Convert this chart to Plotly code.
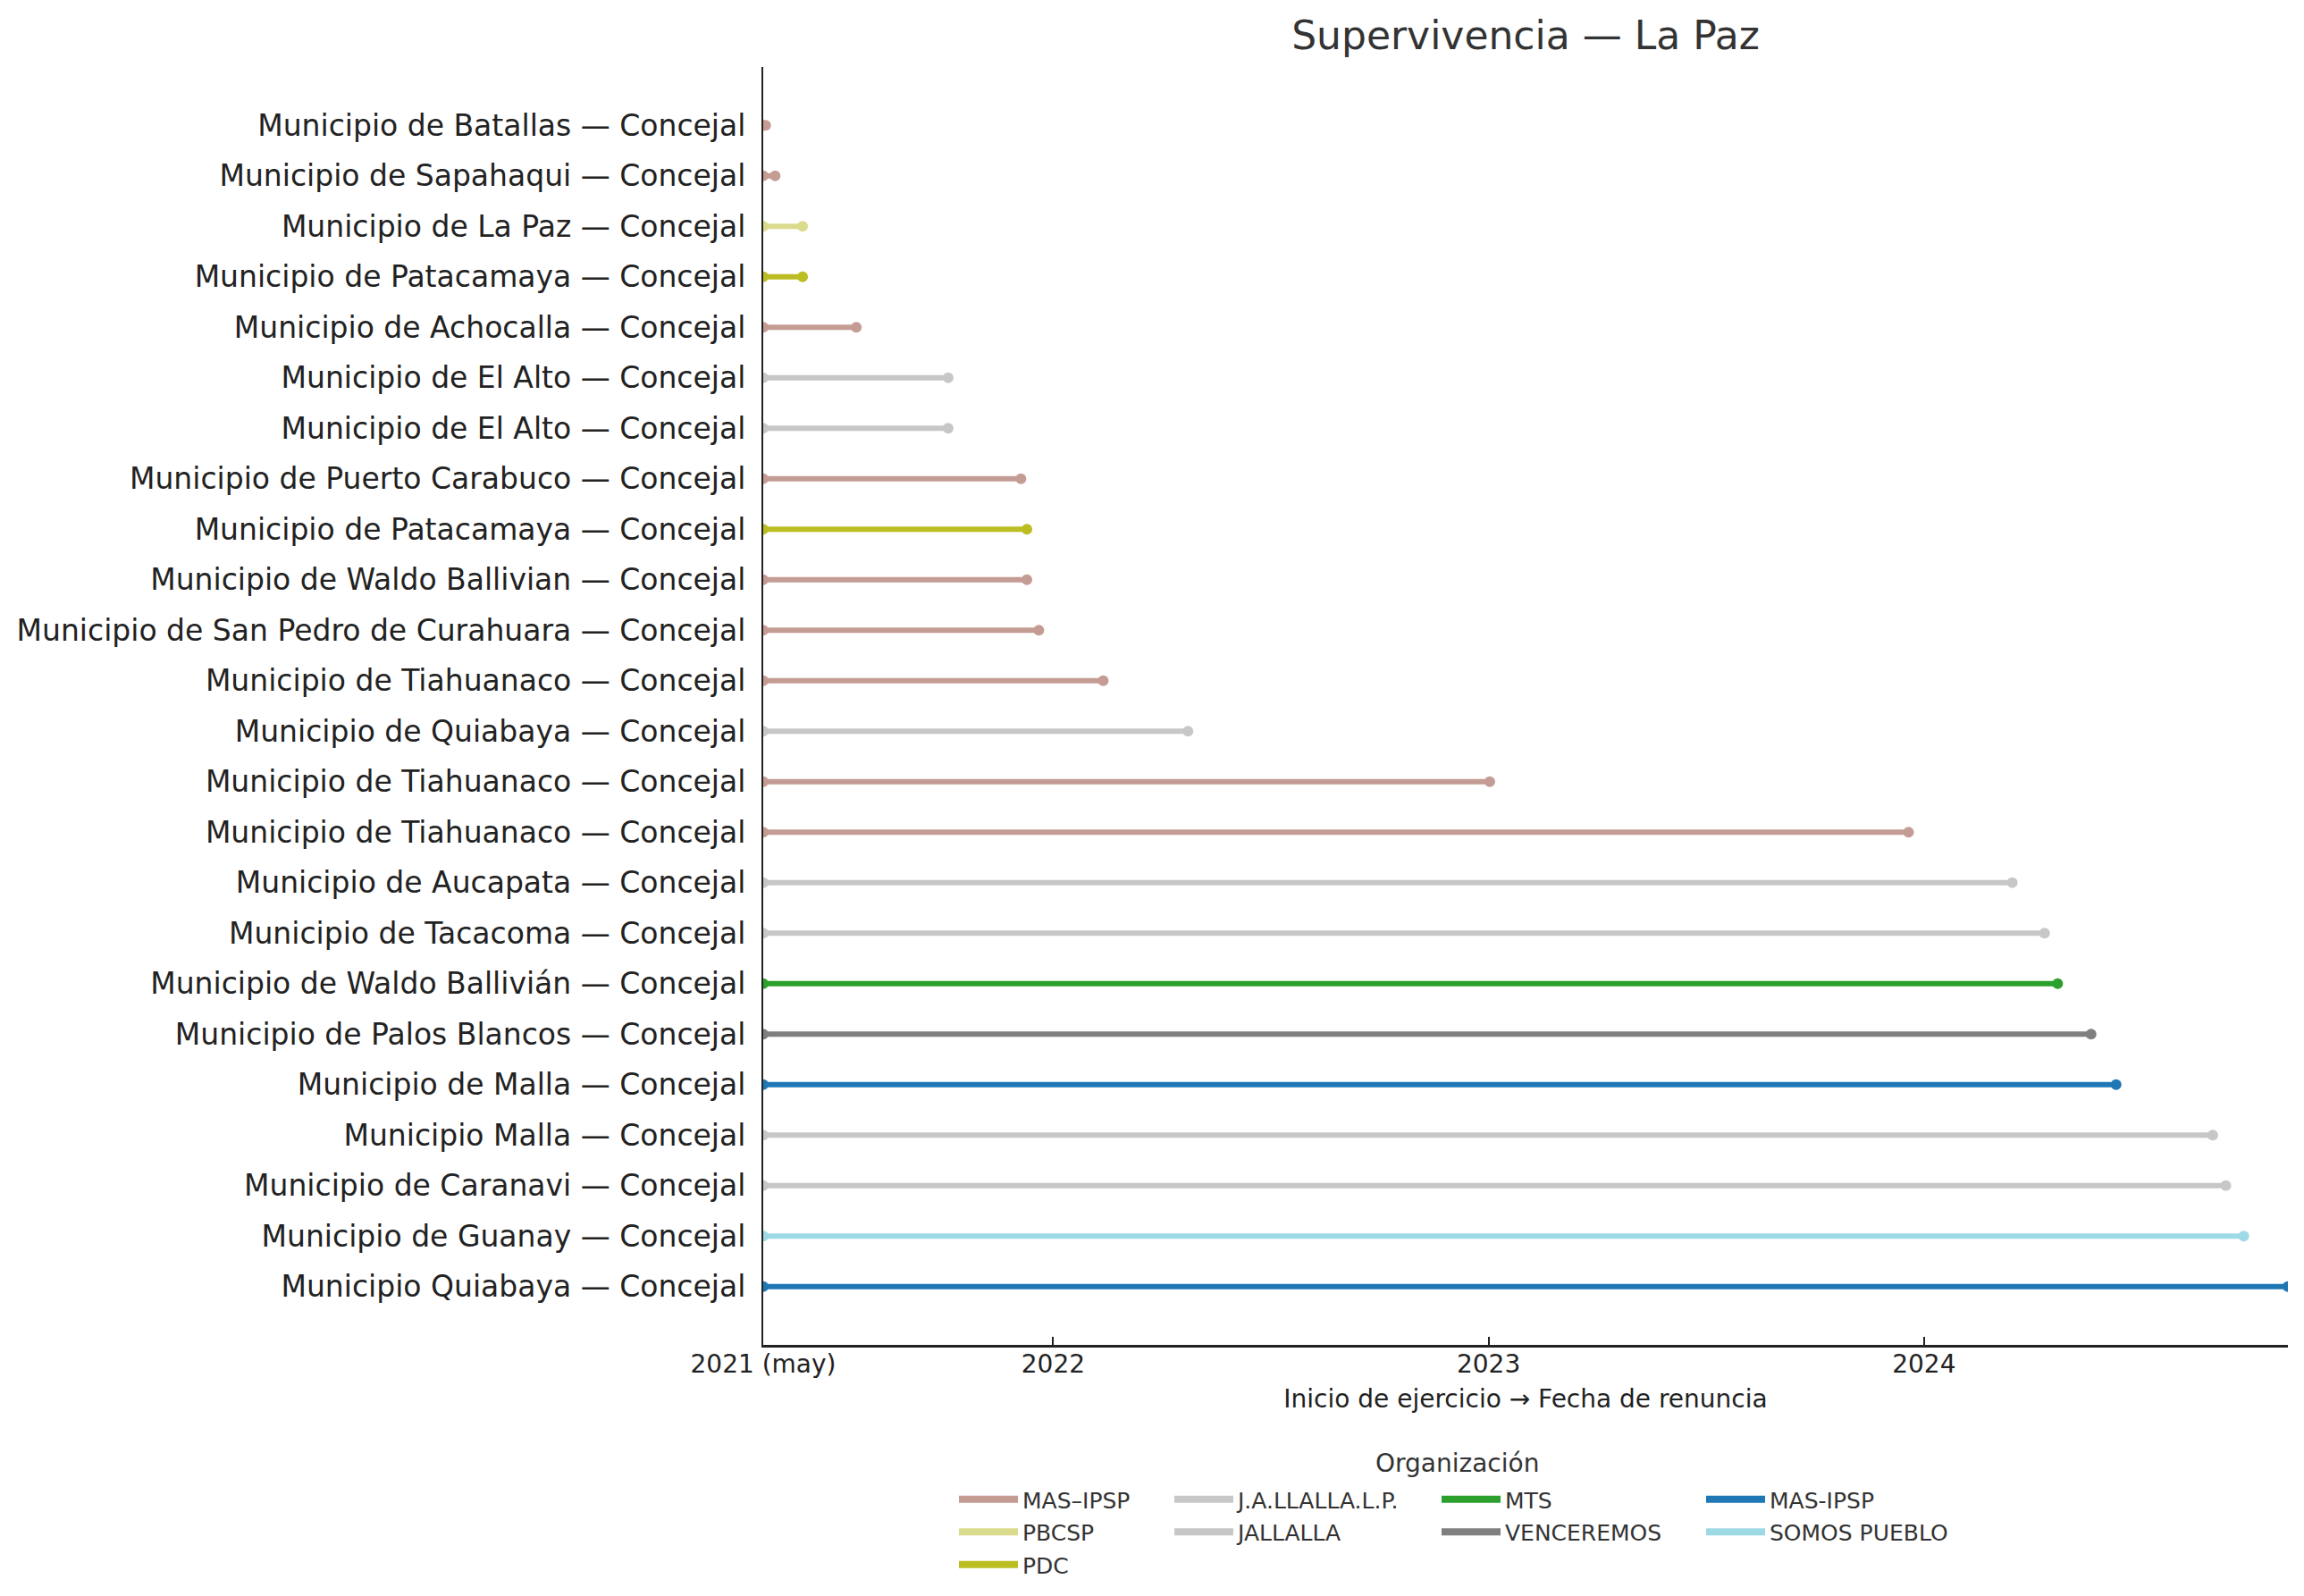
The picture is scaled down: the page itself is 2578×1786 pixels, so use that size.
import plotly.graph_objects as go

# Concejales que renunciaron, La Paz (orden de arriba hacia abajo)
municipios = [
    "Municipio de Batallas — Concejal",
    "Municipio de Sapahaqui — Concejal",
    "Municipio de La Paz — Concejal",
    "Municipio de Patacamaya — Concejal",
    "Municipio de Achocalla — Concejal",
    "Municipio de El Alto — Concejal",
    "Municipio de El Alto — Concejal",
    "Municipio de Puerto Carabuco — Concejal",
    "Municipio de Patacamaya — Concejal",
    "Municipio de Waldo Ballivian — Concejal",
    "Municipio de San Pedro de Curahuara — Concejal",
    "Municipio de Tiahuanaco — Concejal",
    "Municipio de Quiabaya — Concejal",
    "Municipio de Tiahuanaco — Concejal",
    "Municipio de Tiahuanaco — Concejal",
    "Municipio de Aucapata — Concejal",
    "Municipio de Tacacoma — Concejal",
    "Municipio de Waldo Ballivián — Concejal",
    "Municipio de Palos Blancos — Concejal",
    "Municipio de Malla — Concejal",
    "Municipio Malla — Concejal",
    "Municipio de Caranavi — Concejal",
    "Municipio de Guanay — Concejal",
    "Municipio Quiabaya — Concejal",
]

organizacion = [
    "MAS–IPSP", "MAS–IPSP", "PBCSP", "PDC", "MAS–IPSP",
    "J.A.LLALLA.L.P.", "J.A.LLALLA.L.P.", "MAS–IPSP", "PDC", "MAS–IPSP",
    "MAS–IPSP", "MAS–IPSP", "J.A.LLALLA.L.P.", "MAS–IPSP", "MAS–IPSP",
    "J.A.LLALLA.L.P.", "J.A.LLALLA.L.P.", "MTS", "VENCEREMOS", "MAS-IPSP",
    "JALLALLA", "JALLALLA", "SOMOS PUEBLO", "MAS-IPSP",
]

inicio = ["2021-05-03"] * len(municipios)

fin = [
    "2021-05-05", "2021-05-13", "2021-06-05", "2021-06-05", "2021-07-20",
    "2021-10-05", "2021-10-05", "2021-12-05", "2021-12-10", "2021-12-10",
    "2021-12-20", "2022-02-12", "2022-04-24", "2023-01-02", "2023-12-19",
    "2024-03-15", "2024-04-11", "2024-04-22", "2024-05-20", "2024-06-10",
    "2024-08-30", "2024-09-10", "2024-09-25", "2024-11-01",
]

# orden de la leyenda (por columnas)
orgs = ["MAS–IPSP", "PBCSP", "PDC", "J.A.LLALLA.L.P.", "JALLALLA",
        "MTS", "VENCEREMOS", "MAS-IPSP", "SOMOS PUEBLO"]
colores = ["#c49c94", "#dbdb8d", "#bcbd22", "#c7c7c7", "#c7c7c7",
           "#2ca02c", "#7f7f7f", "#1f77b4", "#9edae5"]
columna = [1, 1, 1, 2, 2, 3, 3, 4, 4]

tick_vals = ["2021-05-03", "2022-01-01", "2023-01-01", "2024-01-01"]
tick_text = ["2021 (may)", "2022", "2023", "2024"]

# la página tiene 8 px de margen en el body: se descuenta aquí
W, H = 2578 - 16, 1786 - 16
L, R, T, B = 846, 10, 67, 273
FONT = "DejaVu Sans"

fig = go.Figure()

for org, color in zip(orgs, colores):
    xs, ys = [], []
    for i in range(len(municipios)):
        if organizacion[i] == org:
            xs += [inicio[i], fin[i], None]
            ys += [i, i, None]
    fig.add_trace(go.Scatter(
        x=xs, y=ys, mode="lines+markers",
        line=dict(color=color, width=6),
        marker=dict(color=color, size=12),
        showlegend=False, hoverinfo="skip",
    ))

# entradas de la leyenda (4 columnas)
for org, color, col in zip(orgs, colores, columna):
    fig.add_trace(go.Scatter(
        x=[None], y=[None], mode="lines",
        line=dict(color=color, width=8),
        name=org, legendgroup=org,
        legend="legend" if col == 1 else "legend%d" % col,
    ))

leg_common = dict(
    xref="container", yref="container", xanchor="left", yanchor="top",
    orientation="v", itemwidth=66, tracegroupgap=1,
    font=dict(family=FONT, size=25, color="#333333"),
    bgcolor="rgba(0,0,0,0)", borderwidth=0,
)
leg_y = 1 - 1647 / H
col_x = [1060, 1301, 1600, 1896]

pw = W - L - R
ph = H - T - B

fig.update_layout(
    width=W, height=H,
    paper_bgcolor="white", plot_bgcolor="white",
    margin=dict(l=L, r=R, t=T, b=B, autoexpand=False),
    font=dict(family=FONT, color="#222222"),
    title=dict(
        text="Supervivencia — La Paz",
        x=0.5, xref="paper", xanchor="center",
        y=1 - 32 / H, yref="container", yanchor="middle",
        font=dict(family=FONT, size=44, color="#333333"),
    ),
    xaxis=dict(
        type="date",
        range=[min(inicio), max(fin)],
        tickvals=tick_vals, ticktext=tick_text,
        ticks="inside", ticklen=9, tickwidth=2, tickcolor="#222222",
        showline=True, linecolor="#222222", linewidth=2.5,
        showgrid=False, zeroline=False, ticklabelstandoff=-5,
        tickfont=dict(family=FONT, size=28, color="#222222"),
        title=dict(text="Inicio de ejercicio → Fecha de renuncia",
                   font=dict(family=FONT, size=28, color="#222222"),
                   standoff=14),
    ),
    yaxis=dict(
        range=[len(municipios) - 1 + 1.155, -1.155],
        tickvals=list(range(len(municipios))), ticktext=municipios,
        ticks="", showline=True, linecolor="#222222", linewidth=2,
        showgrid=False, zeroline=False, ticklabelstandoff=11,
        tickfont=dict(family=FONT, size=33, color="#222222"),
    ),
    legend=dict(x=col_x[0] / W, y=leg_y, **leg_common),
    legend2=dict(x=col_x[1] / W, y=leg_y, **leg_common),
    legend3=dict(x=col_x[2] / W, y=leg_y, **leg_common),
    legend4=dict(x=col_x[3] / W, y=leg_y, **leg_common),
    annotations=[dict(
        text="Organización", xref="paper", yref="paper",
        x=(1622 - L) / pw, y=(H - B - 1629) / ph,
        xanchor="center", yanchor="middle",
        showarrow=False, font=dict(family=FONT, size=28, color="#333333"),
    )],
)

fig.write_html("out.html")
